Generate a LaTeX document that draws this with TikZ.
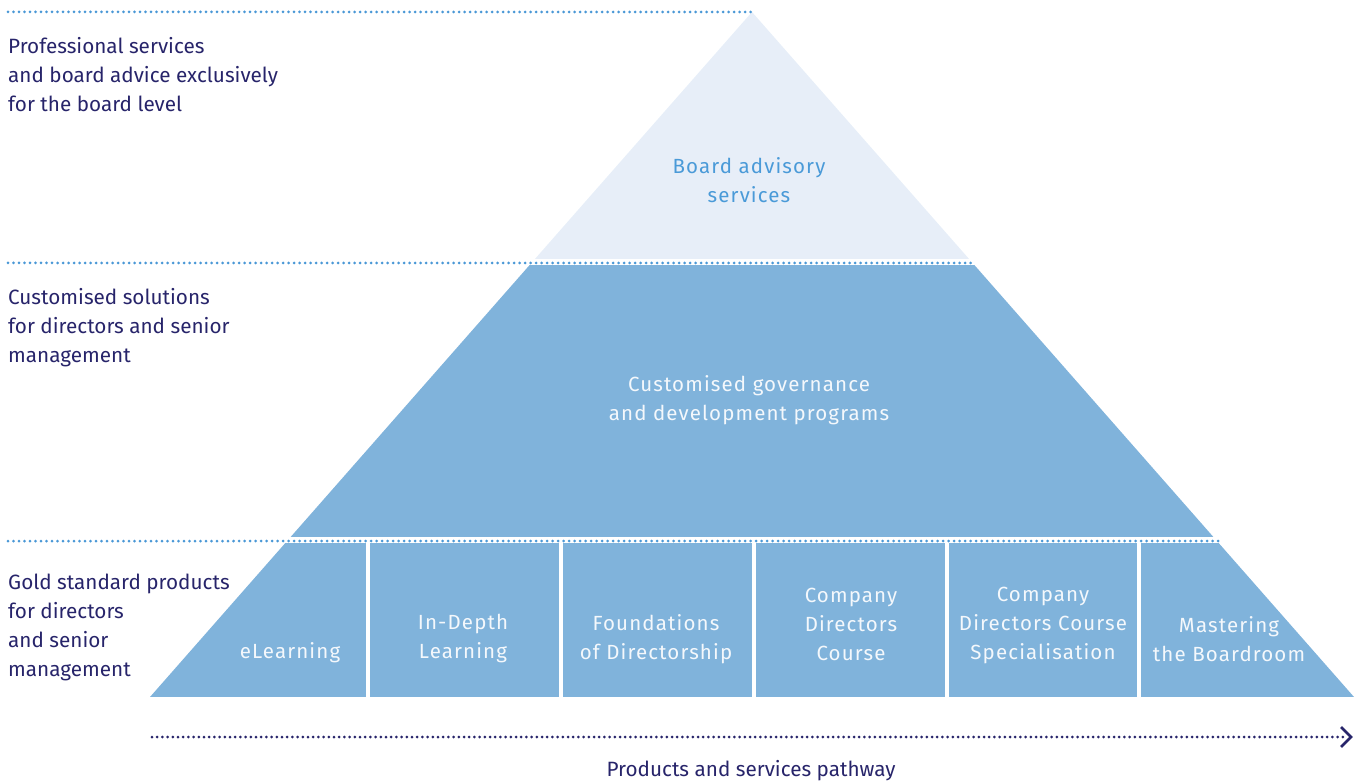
\documentclass[tikz,border=0pt]{standalone}
\usepackage{fontspec}
\setmainfont{Fira Sans}[LetterSpace=5.5]
\newfontfamily\leftfont{Fira Sans}
\usetikzlibrary{arrows.meta}
\definecolor{navy}{HTML}{27246A}
\definecolor{dotblue}{HTML}{4A98D6}
\definecolor{midblue}{HTML}{80B3DB}
\definecolor{paleblue}{HTML}{E7EEF8}
\definecolor{boardtxt}{HTML}{4A9AD8}
\definecolor{celltxt}{HTML}{F4F8FC}
\begin{document}
\begin{tikzpicture}[x=1pt,y=-1pt,
  sidetext/.style={anchor=west,align=left,inner sep=0pt,text=navy,font=\leftfont\fontsize{20.7}{29}\selectfont},
  celltext/.style={align=center,inner sep=0pt,text=celltxt,font=\fontsize{20.5}{29}\selectfont},
  guide/.style={dotblue,line width=3pt,line cap=round,dash pattern=on 0pt off 5.5pt},
  pathway/.style={navy,line width=3pt,line cap=round,dash pattern=on 0pt off 5.2pt}]
\useasboundingbox (0,0) rectangle (1364,783);
% pyramid bands
\begin{scope}
  \clip (752,12) -- (150,697) -- (1354,697) -- cycle;
  \fill[paleblue] (100,0) rectangle (1400,259);
  \fill[midblue] (100,265) rectangle (1400,537);
  \fill[midblue] (100,543) rectangle (366,697);
  \fill[midblue] (370,543) rectangle (559,697);
  \fill[midblue] (563,543) rectangle (752,697);
  \fill[midblue] (756,543) rectangle (945,697);
  \fill[midblue] (949,543) rectangle (1137,697);
  \fill[midblue] (1141,543) rectangle (1400,697);
\end{scope}
% guide lines
\coordinate (g1a) at (8,12);   \coordinate (g1b) at (752,12);
\coordinate (g2a) at (8,263);  \coordinate (g2b) at (974,263);
\coordinate (g3a) at (8,541);  \coordinate (g3b) at (1218,541);
\draw[guide] (g1a) -- (g1b);
\draw[guide] (g2a) -- (g2b);
\draw[guide] (g3a) -- (g3b);
% left texts
\node[sidetext] (t1) at (8,75) {Professional services\\and board advice exclusively\\for the board level};
\node[sidetext] (t2) at (8,328) {Customised solutions\\for directors and senior\\management};
\node[sidetext] (t3) at (8,627) {Gold standard products\\for directors\\and senior\\management};
% pyramid texts
\node[align=center,inner sep=0pt,text=boardtxt,font=\fontsize{20.5}{29}\selectfont] (board) at (749,180) {Board advisory\\services};
\node[celltext] (mid) at (749,400) {Customised governance\\and development programs};
\node[celltext] (c1) at (290,653) {eLearning};
\node[celltext] (c2) at (463,639) {In-Depth\\Learning};
\node[celltext] (c3) at (656,639) {Foundations\\of Directorship};
\node[celltext] (c4) at (851,624.5) {Company\\Directors\\Course};
\node[celltext] (c5) at (1043,625) {Company\\Directors Course\\Specialisation};
\node[celltext] (c6) at (1229,639) {Mastering\\the Boardroom};
% pathway arrow
\coordinate (pa) at (152,737);
\coordinate (pb) at (1351,737);
\draw[pathway] (pa) -- ([xshift=-4pt]pb);
\draw[navy,line width=2.6pt] ([xshift=-10pt,yshift=-10pt]pb) -- (pb) -- ([xshift=-10pt,yshift=10pt]pb);
\node[inner sep=0pt,text=navy,font=\leftfont\fontsize{20.7}{24}\selectfont] (plabel) at (751,771) {Products and services pathway};
\end{tikzpicture}
\end{document}
